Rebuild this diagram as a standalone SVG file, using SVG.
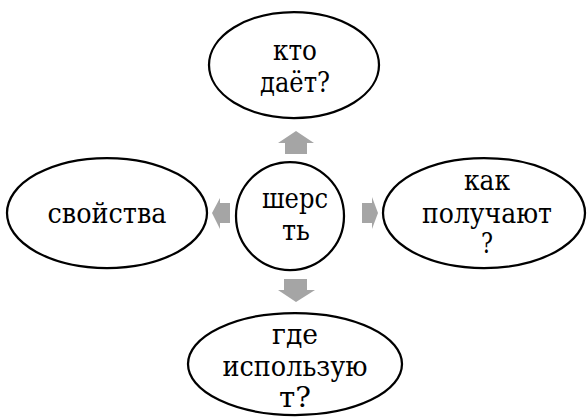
<svg xmlns="http://www.w3.org/2000/svg" width="587" height="417" viewBox="0 0 587 417">
  <style>
    .node { fill: #ffffff; stroke: #000000; stroke-width: 2.25; }
    .label { font-family: 'DejaVu Serif', 'Liberation Serif', serif; font-size: 28px; fill: #000000; text-anchor: middle; }
    .arrow { fill: #a5a5a5; stroke: none; }
  </style>
  <rect width="587" height="417" fill="#ffffff"/>

  <!-- block arrows from the centre outwards -->
  <g id="connectors">
    <polygon class="arrow" points="296,131 314,143 307,143 307,154 285,154 285,143 278,143"/>
    <polygon class="arrow" points="212,213 220,198 220,203 230,203 230,223 220,223 220,229"/>
    <polygon class="arrow" points="378,213 372,197 372,203 362,203 362,223 372,223 372,229"/>
    <polygon class="arrow" points="296,302 315,290 307,290 307,279 284,279 284,290 278,290"/>
  </g>

  <g id="node-center">
    <circle class="node" cx="290" cy="216" r="54"/>
    <text class="label" x="295" y="208" textLength="66" lengthAdjust="spacingAndGlyphs">шерс</text>
    <text class="label" x="296" y="240" textLength="28" lengthAdjust="spacingAndGlyphs">ть</text>
  </g>

  <g id="node-top">
    <ellipse class="node" cx="294" cy="65" rx="85" ry="53"/>
    <text class="label" x="295" y="60" textLength="44" lengthAdjust="spacingAndGlyphs">кто</text>
    <text class="label" x="295" y="92" textLength="70" lengthAdjust="spacingAndGlyphs">даёт?</text>
  </g>

  <g id="node-left">
    <ellipse class="node" cx="107" cy="213" rx="100" ry="55"/>
    <text class="label" x="107" y="223" textLength="119" lengthAdjust="spacingAndGlyphs">свойства</text>
  </g>

  <g id="node-right">
    <ellipse class="node" cx="484" cy="213" rx="101" ry="55"/>
    <text class="label" x="487" y="190" textLength="46" lengthAdjust="spacingAndGlyphs">как</text>
    <text class="label" x="487" y="223" textLength="130" lengthAdjust="spacingAndGlyphs">получают</text>
    <text class="label" x="487" y="253" textLength="12" lengthAdjust="spacingAndGlyphs">?</text>
  </g>

  <g id="node-bottom">
    <ellipse class="node" cx="295" cy="364" rx="107" ry="51"/>
    <text class="label" x="295" y="344" textLength="46" lengthAdjust="spacingAndGlyphs">где</text>
    <text class="label" x="295" y="376" textLength="145" lengthAdjust="spacingAndGlyphs">использую</text>
    <text class="label" x="295" y="407" textLength="32" lengthAdjust="spacingAndGlyphs">т?</text>
  </g>
</svg>
